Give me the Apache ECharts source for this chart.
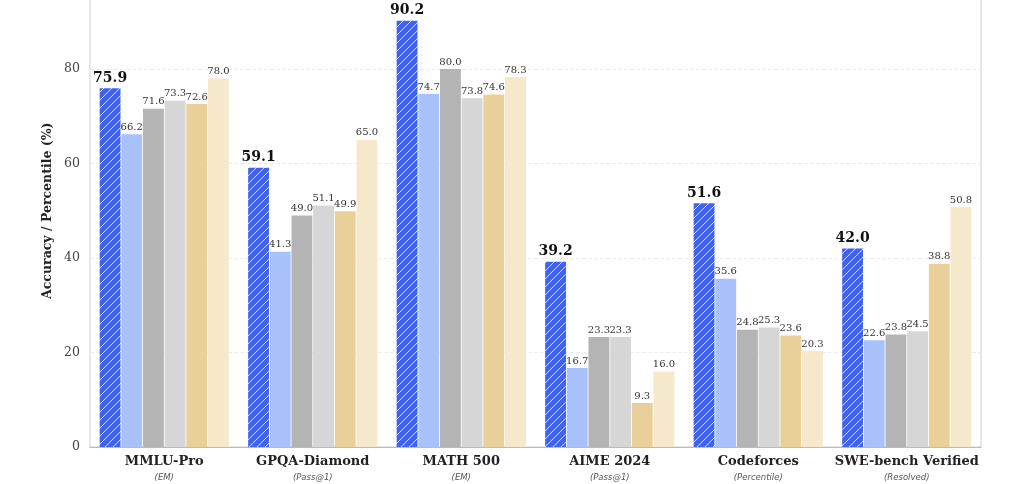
<!DOCTYPE html>
<html>
<head>
<meta charset="utf-8">
<script src="https://cdn.jsdelivr.net/npm/echarts@6/dist/echarts.min.js"></script>
<style>
  html, body { margin: 0; padding: 0; background: #fff; overflow: hidden; width: 1024px; height: 484px; }
  /* the plot's top edge is cropped off in the reference, so the canvas starts above the page */
  #chart { position: absolute; left: 0; top: -32px; width: 1024px; height: 516px; }
</style>
</head>
<body>
<div id="chart"></div>
<script>
// benchmarks and their metric
const categories = ['MMLU-Pro', 'GPQA-Diamond', 'MATH 500', 'AIME 2024', 'Codeforces', 'SWE-bench Verified']
const metrics = ['EM', 'Pass@1', 'EM', 'Pass@1', 'Percentile', 'Resolved']

// one array per model (left to right inside each group)
const model1 = [75.9, 59.1, 90.2, 39.2, 51.6, 42.0]
const model2 = [66.2, 41.3, 74.7, 16.7, 35.6, 22.6]
const model3 = [71.6, 49.0, 80.0, 23.3, 24.8, 23.8]
const model4 = [73.3, 51.1, 73.8, 23.3, 25.3, 24.5]
const model5 = [72.6, 49.9, 74.6, 9.3, 23.6, 38.8]
const model6 = [78.0, 65.0, 78.3, 16.0, 20.3, 50.8]

const yTicks = [0, 20, 40, 60, 80, 100]

const serif = 'DejaVu Serif'

// hatched fill for the first model
function hatch () {
    const c = document.createElement('canvas')
    c.width = 8
    c.height = 8
    const ctx = c.getContext('2d')
    ctx.fillStyle = '#4263e6'
    ctx.fillRect(0, 0, 8, 8)
    ctx.strokeStyle = 'rgba(255,255,255,0.8)'
    ctx.lineWidth = 1
    ctx.beginPath()
    ctx.moveTo(0, 8); ctx.lineTo(8, 0)
    ctx.moveTo(-4, 4); ctx.lineTo(4, -4)
    ctx.moveTo(4, 12); ctx.lineTo(12, 4)
    ctx.stroke()
    return c
}

const chart = echarts.init(document.getElementById('chart'))

const smallLabel = {
    show: true,
    position: 'top',
    distance: 2,
    fontFamily: serif,
    fontSize: 10,
    color: '#333',
    formatter: p => p.value.toFixed(1)
}

function bar (name, data, color) {
    return {
        name,
        type: 'bar',
        data,
        barGap: '4%',
        barCategoryGap: '13%',
        itemStyle: { color },
        label: smallLabel
    }
}

chart.setOption({
    animation: false,
    grid: {
        left: 90,
        right: 43,
        top: 0.5,
        bottom: 37,
        show: true,
        borderColor: '#cfcfcf',
        borderWidth: 1
    },
    xAxis: {
        type: 'category',
        data: categories,
        axisTick: { show: false },
        axisLine: { lineStyle: { color: '#bbb' } },
        axisLabel: {
            interval: 0,
            margin: 6,
            formatter: (v, i) => '{a|' + v + '}\n{b|(' + metrics[i] + ')}',
            rich: {
                a: { fontFamily: serif, fontWeight: 'bold', fontSize: 13, color: '#222', lineHeight: 18 },
                b: { fontFamily: 'DejaVu Sans', fontStyle: 'italic', fontSize: 8.5, color: '#555', lineHeight: 14 }
            }
        }
    },
    yAxis: {
        type: 'value',
        min: yTicks[0],
        max: yTicks[yTicks.length - 1],
        interval: 20,
        name: 'Accuracy / Percentile (%)',
        nameLocation: 'middle',
        nameGap: 36,
        nameMoveOverlap: false,
        nameTextStyle: { fontFamily: serif, fontWeight: 'bold', fontSize: 12.5, color: '#222' },
        axisLine: { show: false },
        axisTick: { show: false },
        axisLabel: { fontFamily: serif, fontSize: 12.5, color: '#444', margin: 10 },
        splitLine: { lineStyle: { color: '#ececec', type: 'dashed' } }
    },
    series: [
        {
            name: 'Model 1',
            type: 'bar',
            data: model1,
            barGap: '4%',
            barCategoryGap: '13%',
            itemStyle: { color: { image: hatch(), repeat: 'repeat' } },
            label: {
                show: true,
                position: 'top',
                distance: 3,
                fontFamily: serif,
                fontWeight: 'bold',
                fontSize: 14,
                color: '#111',
                formatter: p => p.value.toFixed(1)
            }
        },
        bar('Model 2', model2, '#a9c1fa'),
        bar('Model 3', model3, '#b4b4b4'),
        bar('Model 4', model4, '#d6d6d6'),
        bar('Model 5', model5, '#e9d09a'),
        bar('Model 6', model6, '#f6e8cb')
    ]
})
</script>
</body>
</html>
